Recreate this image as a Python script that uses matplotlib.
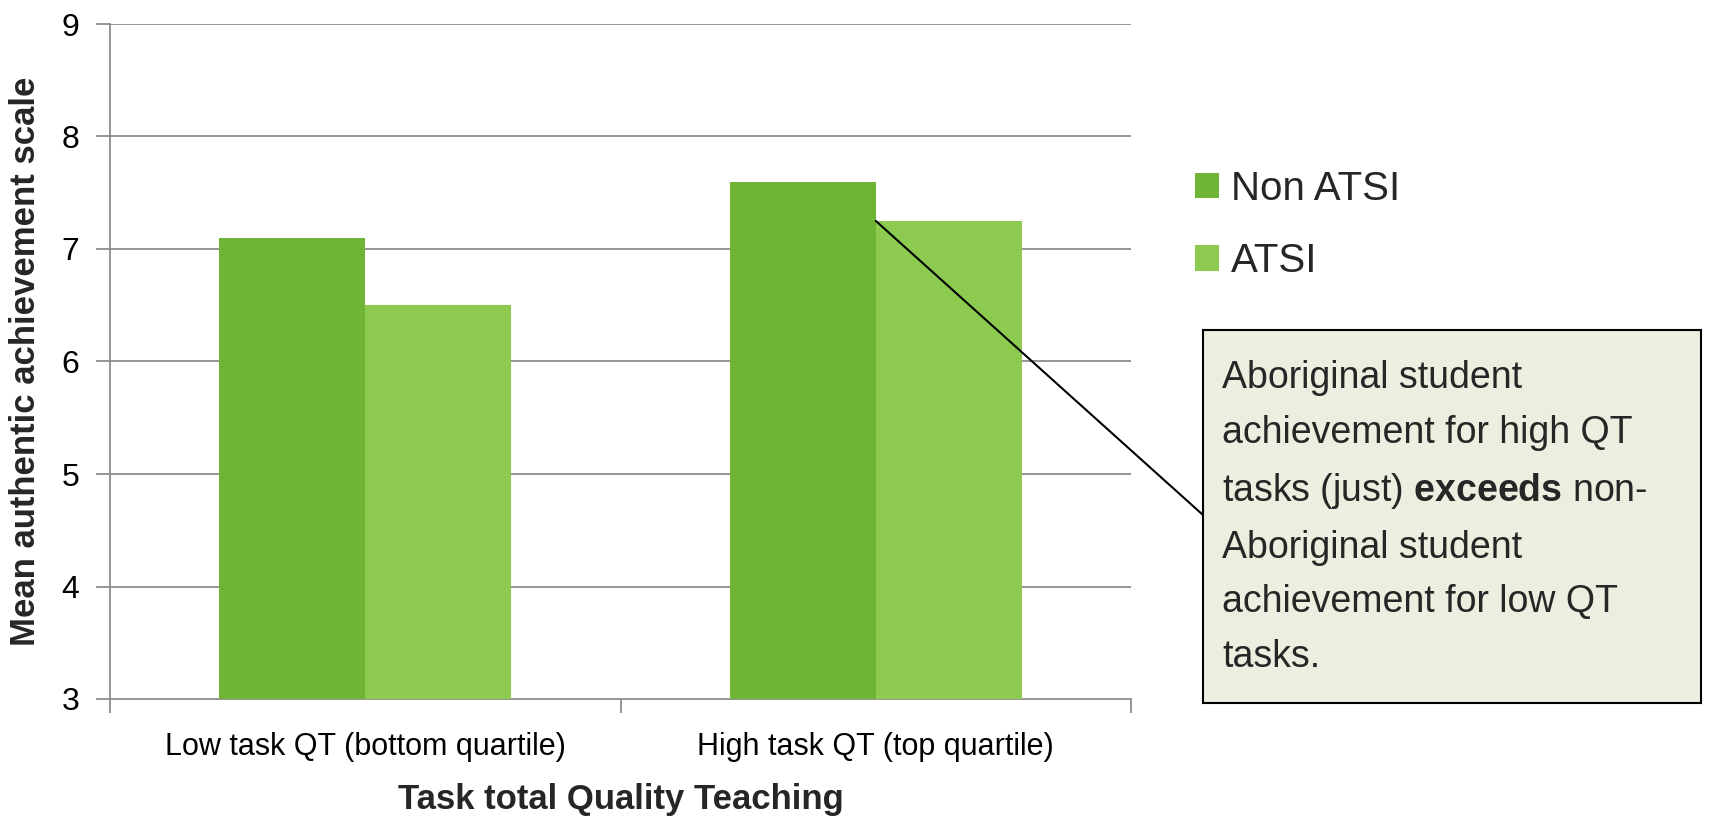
import numpy as np
import matplotlib.pyplot as plt
from matplotlib.patches import Rectangle

plt.rcParams['font.family'] = ['Liberation Sans', 'DejaVu Sans']
plt.rcParams['mathtext.fontset'] = 'custom'
plt.rcParams['mathtext.bf'] = 'Liberation Sans:bold'
plt.rcParams['mathtext.rm'] = 'Liberation Sans'

categories = ['Low task QT (bottom quartile)', 'High task QT (top quartile)']
series_names = ['Non ATSI', 'ATSI']
non_atsi = [7.1, 7.6]
atsi = [6.5, 7.25]
yticks = [3, 4, 5, 6, 7, 8, 9]

dark = '#70B434'
light = '#8CCB50'
grid_col = '#8C8C8C'
txt_col = '#262626'

W, H = 1731, 821
fig = plt.figure(figsize=(W / 100, H / 100), dpi=100)
ax = fig.add_axes([110 / W, 1 - 699 / H, (1131 - 110) / W, (699 - 24) / H])

x = np.arange(len(categories))
w = 1 / 3.5  # gap width 150%
ax.bar(x - w / 2, [v - 3 for v in non_atsi], w, bottom=3, color=dark, label=series_names[0], zorder=3)
ax.bar(x + w / 2, [v - 3 for v in atsi], w, bottom=3, color=light, label=series_names[1], zorder=3)

ax.set_xlim(-0.5, len(categories) - 0.5)
ax.set_ylim(3, 9)
ax.set_yticks(yticks)
ax.set_yticklabels([str(t) for t in yticks], fontsize=23, color='black')
for t in yticks[1:]:
    ax.axhline(t, color=grid_col, lw=1.3, zorder=1)

ax.set_xticks(x)
ax.set_xticklabels(categories, fontsize=22, color='black')
ax.set_xticks(np.arange(len(categories) + 1) - 0.5, minor=True)
ax.tick_params(axis='x', which='major', length=0, pad=24)
ax.tick_params(axis='x', which='minor', length=10, width=1.3, color=grid_col, direction='out')
ax.tick_params(axis='y', length=10, width=1.3, color=grid_col, direction='out', pad=12)

for s in ['top', 'right']:
    ax.spines[s].set_visible(False)
for s in ['left', 'bottom']:
    ax.spines[s].set_color(grid_col)
    ax.spines[s].set_linewidth(1.3)

ax.set_xlabel('Task total Quality Teaching', fontsize=25, fontweight='bold', color=txt_col, labelpad=15)
ax.set_ylabel('Mean authentic achievement scale', fontsize=25, fontweight='bold', color=txt_col, labelpad=14)

fig.legend(loc='center left', bbox_to_anchor=(1195 / W, 1 - 225 / H), frameon=False,
           fontsize=29, handlelength=0.6, handleheight=0.6, handletextpad=0.3,
           labelspacing=0.85, labelcolor=txt_col, borderpad=0, borderaxespad=0)

# callout box
fig.patches.append(Rectangle((1203 / W, 1 - 703 / H), 498 / W, 373 / H, transform=fig.transFigure,
                             facecolor='#EBEFDF', edgecolor='black', lw=1.5, zorder=5))
note = ('Aboriginal student\n'
        'achievement for high QT\n'
        r'tasks (just) $\mathbf{exceeds}$ non-' '\n'
        'Aboriginal student\n'
        'achievement for low QT\n'
        'tasks.')
fig.text(1222 / W, 1 - 360 / H, note, fontsize=27, color=txt_col, va='top', ha='left',
         linespacing=1.67, zorder=6)

ax.annotate('', xy=(x[1], atsi[1]), xycoords='data', xytext=(1203, H - 515),
            textcoords='figure pixels',
            arrowprops=dict(arrowstyle='-', color='black', lw=1.5, shrinkA=0, shrinkB=0),
            annotation_clip=False, zorder=6)

fig.savefig('out.png', dpi=100)
